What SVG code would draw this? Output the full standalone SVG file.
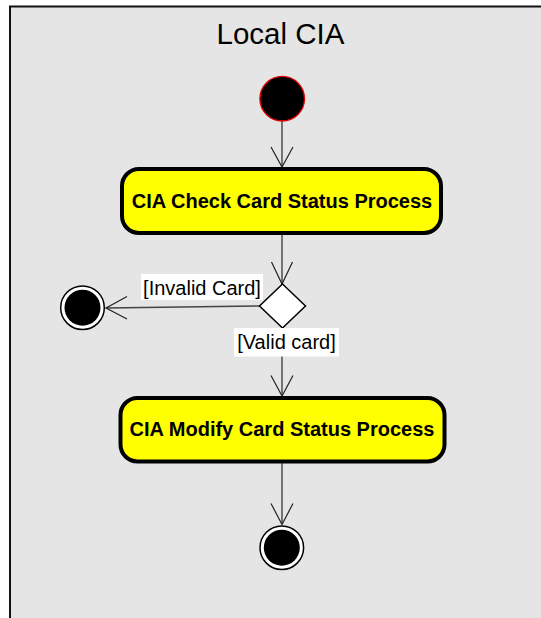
<svg xmlns="http://www.w3.org/2000/svg" width="541" height="618" viewBox="0 0 541 618">
  <style>
    .frame { fill: #e5e5e5; stroke: #111; stroke-width: 2; }
    .title { font-family: "Liberation Sans", Arial, sans-serif; font-size: 29.5px; fill: #000; text-anchor: middle; }
    .action rect { fill: #ffff00; stroke: #000; stroke-width: 4; }
    .action text { font-family: "Liberation Sans", Arial, sans-serif; font-weight: bold; font-size: 20px; fill: #000; text-anchor: middle; }
    .edge { fill: none; stroke: #444; stroke-width: 1.4; }
    .head { fill: none; stroke: #222; stroke-width: 1.2; }
    .guard rect { fill: #fff; stroke: none; }
    .guard text { font-family: "Liberation Sans", Arial, sans-serif; font-size: 20px; fill: #000; text-anchor: middle; }
  </style>

  <!-- activity frame (open on right and bottom) -->
  <rect class="frame" x="10" y="6.5" width="560" height="640"/>
  <text class="title" x="280.5" y="44">Local CIA</text>

  <g id="connectors">
    <!-- start -> check -->
    <line class="edge" x1="282" y1="121" x2="282" y2="166"/>
    <polyline class="head" points="271,147 282,167 293,147"/>
    <!-- check -> decision -->
    <line class="edge" x1="282" y1="235" x2="282" y2="284"/>
    <polyline class="head" points="271.5,262 282,284 292.5,262"/>
    <!-- decision -> invalid end -->
    <line class="edge" x1="259.5" y1="306" x2="106" y2="308"/>
    <polyline class="head" points="127,296.5 106,308 127,319"/>
    <!-- decision -> modify -->
    <line class="edge" x1="282" y1="328" x2="282" y2="395"/>
    <polyline class="head" points="271,375.5 282,396 293,375.5"/>
    <!-- modify -> final -->
    <line class="edge" x1="282" y1="463" x2="282" y2="524"/>
    <polyline class="head" points="271,503.5 282,524.5 293,503.5"/>
  </g>

  <g id="start">
    <circle cx="282.2" cy="98.7" r="22.3" fill="#000" stroke="#e00000" stroke-width="1.3"/>
  </g>

  <g id="check-card-status" class="action">
    <rect x="122" y="169" width="319" height="64" rx="17" ry="17"/>
    <text x="282" y="208">CIA Check Card Status Process</text>
  </g>

  <g id="decision">
    <polygon points="282.5,284 305.5,306 282.5,328 259.5,306" fill="#fff" stroke="#000" stroke-width="1.5"/>
  </g>

  <g id="guard-invalid" class="guard">
    <rect x="141" y="274" width="122" height="26"/>
    <text x="202" y="295">[Invalid Card]</text>
  </g>

  <g id="guard-valid" class="guard">
    <rect x="234" y="328" width="105" height="28.5"/>
    <text x="286.5" y="349">[Valid card]</text>
  </g>

  <g id="end-invalid">
    <circle cx="82.5" cy="307.7" r="21.8" fill="#fff" stroke="#000" stroke-width="1.5"/>
    <circle cx="82.5" cy="307.7" r="18" fill="#000"/>
  </g>

  <g id="modify-card-status" class="action">
    <rect x="120.5" y="398" width="324" height="63.5" rx="17" ry="17"/>
    <text x="282" y="436">CIA Modify Card Status Process</text>
  </g>

  <g id="end">
    <circle cx="281.8" cy="547.7" r="21.8" fill="#fff" stroke="#000" stroke-width="1.5"/>
    <circle cx="281.8" cy="547.7" r="18" fill="#000"/>
  </g>
</svg>
